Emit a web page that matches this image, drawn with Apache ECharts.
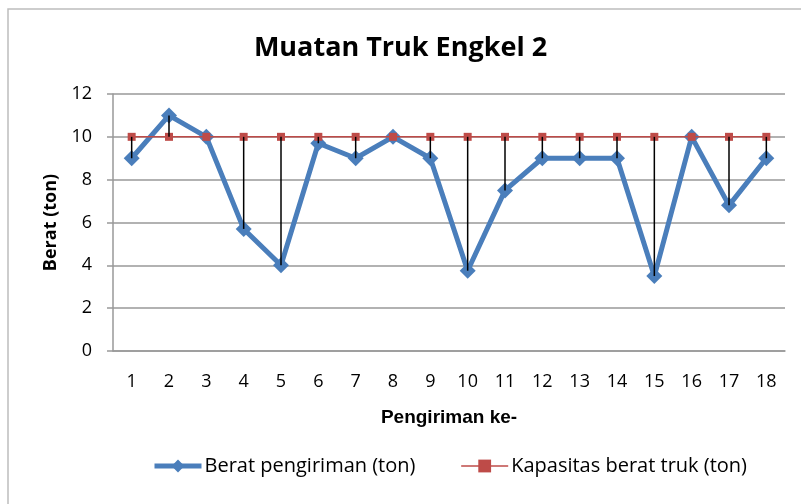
<!DOCTYPE html>
<html>
<head>
    <meta charset="utf-8">
    <title>Muatan Truk Engkel 2</title>
    <script src="https://cdn.jsdelivr.net/npm/echarts@6/dist/echarts.min.js"></script>
    <style>
        body { margin: 0; background: #fff; }
        #container { width: 801px; height: 504px; }
    </style>
</head>
<body>
    <div id="container"></div>
    <script type="text/javascript">
        // data
        var pengiriman = ['1', '2', '3', '4', '5', '6', '7', '8', '9', '10', '11', '12', '13', '14', '15', '16', '17', '18'];
        var berat = [9, 11, 10, 5.7, 4, 9.7, 9, 10, 9, 3.75, 7.5, 9, 9, 9, 3.5, 10, 6.8, 9];
        var kapasitas = [10, 10, 10, 10, 10, 10, 10, 10, 10, 10, 10, 10, 10, 10, 10, 10, 10, 10];

        var font = '"Open Sans", Lato, sans-serif';
        var arial = '"Liberation Sans", Arial, sans-serif';
        var biru = '#4A7EBB';
        var merah = '#BE4B48';

        var dom = document.getElementById('container');
        var myChart = echarts.init(dom);

        // black vertical lines between the two series
        var dropData = [];
        for (var i = 0; i < pengiriman.length; i++) {
            dropData.push([i, berat[i], kapasitas[i]]);
        }

        var option = {
            animation: false,
            graphic: [{
                type: 'rect',
                shape: { x: 8, y: 9, width: 820, height: 520 },
                style: { fill: 'none', stroke: '#bdbdbd', lineWidth: 1.5 },
                silent: true
            }],
            title: {
                text: 'Muatan Truk Engkel 2',
                left: 'center',
                top: 30,
                textStyle: { fontFamily: font, fontWeight: 'bold', fontSize: 27, color: '#000' }
            },
            legend: {
                data: [
                    { name: 'Berat pengiriman (ton)', lineStyle: { width: 5 } },
                    { name: 'Kapasitas berat truk (ton)', lineStyle: { width: 1.5 } }
                ],
                top: 451,
                left: 147,
                itemWidth: 47,
                itemHeight: 16,
                itemGap: 45,
                textStyle: { fontFamily: font, fontSize: 20, color: '#000', padding: [0, 0, 0, -2] }
            },
            grid: { left: 113, right: 16, top: 94, bottom: 153 },
            xAxis: {
                type: 'category',
                data: pengiriman,
                name: 'Pengiriman ke-',
                nameLocation: 'middle',
                nameGap: 57,
                nameTextStyle: { fontFamily: arial, fontWeight: 'bold', fontSize: 19, color: '#000' },
                axisLine: { lineStyle: { color: '#999', width: 1.5 } },
                axisTick: { show: false },
                axisLabel: { fontFamily: font, fontSize: 18, color: '#000', margin: 22 }
            },
            yAxis: {
                type: 'value',
                min: 0,
                max: 12,
                interval: 2,
                name: 'Berat (ton)',
                nameLocation: 'middle',
                nameGap: 53,
                nameTextStyle: { fontFamily: font, fontWeight: 'bold', fontSize: 18, color: '#000' },
                axisLine: { show: true, lineStyle: { color: '#999', width: 1.5 } },
                axisTick: { show: true, inside: false, length: 6, lineStyle: { color: '#999', width: 1.5 } },
                axisLabel: { fontFamily: font, fontSize: 18, color: '#000', margin: 21 },
                splitLine: { lineStyle: { color: '#999', width: 1.5 } }
            },
            series: [{
                name: 'Berat pengiriman (ton)',
                type: 'line',
                data: berat,
                symbol: 'diamond',
                symbolSize: 16,
                z: 3,
                lineStyle: { color: biru, width: 5 },
                itemStyle: { color: biru }
            }, {
                name: 'Kapasitas berat truk (ton)',
                type: 'line',
                data: kapasitas,
                symbol: 'rect',
                symbolSize: 8,
                z: 4,
                lineStyle: { color: merah, width: 1.5 },
                itemStyle: { color: merah }
            }, {
                type: 'custom',
                z: 5,
                data: dropData,
                renderItem: function (params, api) {
                    var a = api.coord([api.value(0), api.value(1)]);
                    var b = api.coord([api.value(0), api.value(2)]);
                    return {
                        type: 'line',
                        shape: { x1: a[0], y1: a[1], x2: b[0], y2: b[1] },
                        style: { stroke: '#000', lineWidth: 1.5 }
                    };
                }
            }]
        };
        myChart.setOption(option);
    </script>
</body>
</html>
